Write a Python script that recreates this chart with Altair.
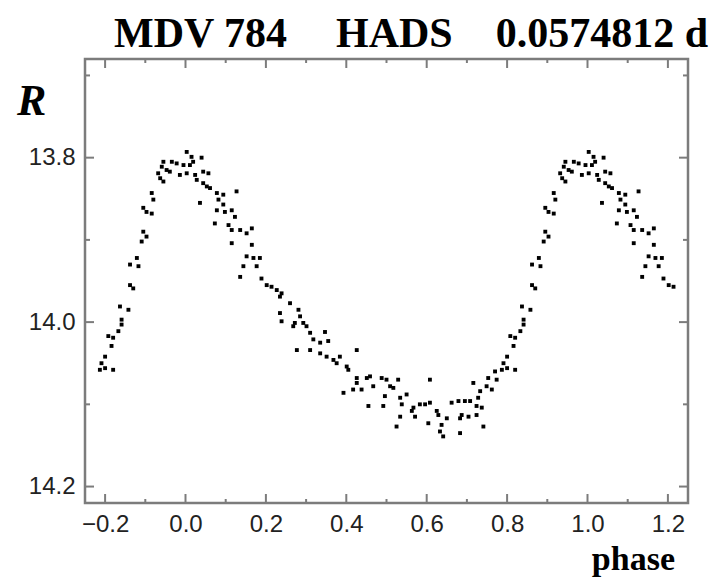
import altair as alt
import pandas as pd

# ---- data (base phase 0..1, R magnitude) ----
PHASE = [
    0.003, 0.015, 0.040, 0.019, 0.011, 0.995, 0.978, 0.966, 0.945, 0.941,
    0.953, 0.961, 0.932, 0.937, 0.945, 0.986, 0.003, 0.024, 0.044, 0.057,
    0.028, 0.044, 0.053, 0.061, 0.078, 0.094, 0.082, 0.094, 0.078, 0.098,
    0.115, 0.123, 0.127, 0.036, 0.073, 0.107, 0.115, 0.136, 0.152, 0.165,
    0.115, 0.165, 0.152, 0.169, 0.185, 0.144, 0.177, 0.136, 0.189,
    0.916, 0.920, 0.895, 0.903, 0.916, 0.895, 0.903, 0.891, 0.879, 0.862,
    0.883,
    0.862, 0.870, 0.837, 0.858, 0.841, 0.841, 0.833, 0.808, 0.820, 0.816,
    0.800, 0.791, 0.787, 0.800, 0.820,
    0.202, 0.214, 0.227, 0.239, 0.235, 0.260, 0.281, 0.235, 0.285,
    0.239, 0.272, 0.268, 0.293, 0.301, 0.310, 0.347, 0.318, 0.310, 0.335,
    0.355, 0.277, 0.335, 0.351, 0.368, 0.384, 0.376, 0.401, 0.405, 0.426,
    0.426, 0.451, 0.459, 0.426, 0.438, 0.417, 0.393, 0.467, 0.455,
    0.488, 0.500, 0.529, 0.509, 0.517, 0.496, 0.534, 0.550, 0.492, 0.538,
    0.563, 0.567, 0.583, 0.596, 0.608, 0.608, 0.534, 0.571, 0.525, 0.604,
    0.625, 0.629, 0.650, 0.637, 0.633, 0.641, 0.683, 0.687, 0.683, 0.704,
    0.724, 0.662, 0.679, 0.695, 0.708, 0.728, 0.724, 0.737, 0.741, 0.716,
    0.733, 0.749, 0.762, 0.753, 0.774, 0.770,
]
RMAG = [
    13.793, 13.799, 13.800, 13.805, 13.809, 13.809, 13.807, 13.805, 13.805, 13.811,
    13.815, 13.817, 13.819, 13.825, 13.829, 13.821, 13.819, 13.821, 13.817, 13.819,
    13.827, 13.831, 13.835, 13.837, 13.843, 13.845, 13.851, 13.857, 13.864, 13.866,
    13.864, 13.872, 13.841, 13.855, 13.880, 13.882, 13.888, 13.888, 13.892, 13.886,
    13.904, 13.906, 13.920, 13.922, 13.922, 13.932, 13.932, 13.945, 13.947,
    13.843, 13.851, 13.861, 13.866, 13.868, 13.890, 13.896, 13.902, 13.922, 13.930,
    13.932,
    13.955, 13.959, 13.981, 13.985, 13.997, 14.003, 14.011, 14.017, 14.019, 14.029,
    14.042, 14.050, 14.058, 14.056, 14.058,
    13.955, 13.957, 13.961, 13.965, 13.969, 13.977, 13.985, 13.989, 13.993,
    13.999, 14.001, 14.005, 14.001, 14.005, 14.013, 14.012, 14.021, 14.034, 14.025,
    14.023, 14.034, 14.038, 14.042, 14.046, 14.042, 14.050, 14.054, 14.058, 14.034,
    14.068, 14.068, 14.066, 14.074, 14.082, 14.082, 14.086, 14.078, 14.102,
    14.068, 14.070, 14.070, 14.078, 14.080, 14.090, 14.092, 14.088, 14.102, 14.100,
    14.108, 14.104, 14.100, 14.100, 14.098, 14.070, 14.115, 14.115, 14.127, 14.123,
    14.108, 14.113, 14.117, 14.125, 14.133, 14.139, 14.135, 14.113, 14.117, 14.115,
    14.113, 14.098, 14.096, 14.096, 14.096, 14.092, 14.102, 14.104, 14.127, 14.074,
    14.084, 14.078, 14.082, 14.068, 14.070, 14.060,
]

X_MAJOR = [-0.2, 0.0, 0.2, 0.4, 0.6, 0.8, 1.0, 1.2]
X_MINOR = [-0.1, 0.1, 0.3, 0.5, 0.7, 0.9, 1.1]
Y_MAJOR = [13.8, 14.0, 14.2]
Y_MINOR = [13.7, 13.9, 14.1]
X_DOMAIN = [-0.25, 1.25]
Y_DOMAIN = [13.68, 14.22]

TITLE_PARTS = ["MDV 784", "HADS", "0.0574812 d"]
Y_LABEL = "R"
X_LABEL = "phase"

# phase-folded curve repeated beyond one cycle
rows = []
for p, m in zip(PHASE, RMAG):
    rows.append({"phase": p, "R": m})
    if p < 0.225:
        rows.append({"phase": p + 1, "R": m})
    if p > 0.785:
        rows.append({"phase": p - 1, "R": m})
df = pd.DataFrame(rows)

W, H = 603, 444
GRAY = "#7c7c7c"

xs = alt.Scale(domain=X_DOMAIN, nice=False, zero=False)
ys = alt.Scale(domain=Y_DOMAIN, reverse=True, nice=False, zero=False)

x_axis = alt.Axis(values=X_MAJOR, format=".1f", title=None, ticks=False,
                  domain=False, grid=False, labelPadding=9,
                  labelFont="Liberation Sans", labelFontSize=24,
                  labelColor="#222222")
y_axis = alt.Axis(values=Y_MAJOR, format=".1f", title=None, ticks=False,
                  domain=False, grid=False, labelPadding=10,
                  labelFont="Liberation Sans", labelFontSize=24,
                  labelColor="#222222")

points = alt.Chart(df).mark_square(size=15, color="black", opacity=1).encode(
    x=alt.X("phase:Q", scale=xs, axis=x_axis),
    y=alt.Y("R:Q", scale=ys, axis=y_axis),
)


def xticks(vals, length):
    d = pd.DataFrame({"phase": vals})
    bot = alt.Chart(d).mark_rule(color=GRAY, strokeWidth=2).encode(
        x=alt.X("phase:Q", scale=xs, axis=x_axis), y=alt.value(H), y2=alt.value(H - length))
    top = alt.Chart(d).mark_rule(color=GRAY, strokeWidth=2).encode(
        x=alt.X("phase:Q", scale=xs, axis=x_axis), y=alt.value(0), y2=alt.value(length))
    return [bot, top]


def yticks(vals, length):
    d = pd.DataFrame({"R": vals})
    left = alt.Chart(d).mark_rule(color=GRAY, strokeWidth=2).encode(
        y=alt.Y("R:Q", scale=ys, axis=y_axis), x=alt.value(0), x2=alt.value(length))
    right = alt.Chart(d).mark_rule(color=GRAY, strokeWidth=2).encode(
        y=alt.Y("R:Q", scale=ys, axis=y_axis), x=alt.value(W), x2=alt.value(W - length))
    return [left, right]


one = alt.Data(values=[{}])


def label(text, x, y, align, size, style="normal"):
    return alt.Chart(one).mark_text(
        text=text, align=align, baseline="alphabetic", font="Liberation Serif",
        fontWeight="bold", fontStyle=style, fontSize=size, color="black"
    ).encode(x=alt.value(x), y=alt.value(y))


layers = ([points] + xticks(X_MAJOR, 9) + xticks(X_MINOR, 4)
          + yticks(Y_MAJOR, 9) + yticks(Y_MINOR, 5)
          + [label(TITLE_PARTS[0], 29, -12, "left", 42),
             label(TITLE_PARTS[1], 251, -12, "left", 42),
             label(TITLE_PARTS[2], 623, -12, "right", 42),
             label(Y_LABEL, -68, 56, "left", 44, "italic"),
             label(X_LABEL, 590, 511, "right", 34)])

chart = alt.layer(*layers).properties(
    width=W, height=H,
    autosize=alt.AutoSizeParams(type="none"),
    padding={"left": 85, "top": 59, "right": 26, "bottom": 74},
).configure_view(stroke=GRAY, strokeWidth=2.5)

chart.save("out.html", embed_options={"renderer": "svg", "actions": False})
